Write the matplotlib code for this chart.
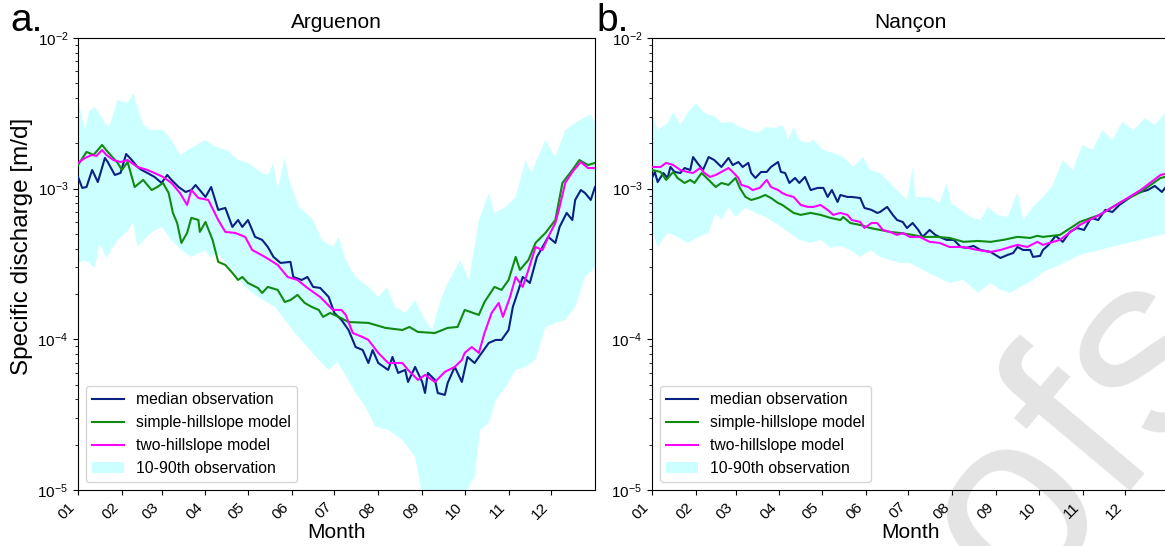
import numpy as np
import matplotlib
matplotlib.use("Agg")
import matplotlib.pyplot as plt

plt.rcParams['font.family'] = ['Liberation Sans', 'DejaVu Sans']
plt.rcParams['mathtext.fontset'] = 'custom'
plt.rcParams['mathtext.rm'] = 'Liberation Sans'
plt.rcParams['mathtext.it'] = 'Liberation Sans:italic'
plt.rcParams['mathtext.bf'] = 'Liberation Sans:bold'

# ---------------- data: (day of year, log10 specific discharge [m/d]) ----------------
month_start_days = [0, 31, 59, 90, 120, 151, 181, 212, 243, 273, 304, 334]
month_labels = ['01', '02', '03', '04', '05', '06', '07', '08', '09', '10', '11', '12']
titles = ['Arguenon', 'Nançon']
panel_letters = ['a.', 'b.']

arg_median = [(0,-2.922),(3,-2.995),(6,-2.989),(10,-2.876),(14,-2.956),(19,-2.796),(21,-2.823),(26,-2.909),
              (30,-2.896),(34,-2.770),(38,-2.810),(42,-2.856),(45,-2.876),(49,-2.896),(54,-2.922),(59,-2.962),
              (63,-2.909),(66,-2.942),(71,-2.989),(76,-3.022),(80,-3.009),(83,-2.976),(90,-3.055),(94,-2.989),
              (99,-3.141),(104,-3.128),(109,-3.254),(113,-3.208),(116,-3.254),(120,-3.208),(125,-3.320),
              (130,-3.340),(134,-3.387),(138,-3.453),(143,-3.493),(150,-3.486),(152,-3.586),(158,-3.606),
              (162,-3.586),(166,-3.652),(171,-3.659),(177,-3.719),(181,-3.825),(186,-3.871),(191,-3.938),
              (196,-4.051),(201,-4.071),(205,-4.157),(208,-4.071),(212,-4.157),(219,-4.203),(222,-4.117),
              (226,-4.223),(231,-4.203),(233,-4.283),(238,-4.183),(243,-4.283),(245,-4.356),(247,-4.223),
              (252,-4.269),(254,-4.356),(259,-4.369),(261,-4.289),(266,-4.183),(271,-4.283),(275,-4.117),
              (280,-4.157),(285,-4.090),(290,-4.024),(295,-4.004),(299,-4.004),(304,-3.938),(307,-3.785),
              (311,-3.672),(314,-3.586),(319,-3.626),(324,-3.453),(328,-3.387),(332,-3.320),(337,-3.360),
              (340,-3.254),(345,-3.161),(349,-3.208),(351,-3.075),(355,-3.009),(358,-3.029),(362,-3.075),
              (365,-2.989)]
arg_simple = [(0,-2.843),(6,-2.756),(11,-2.776),(17,-2.710),(21,-2.756),(28,-2.829),(31,-2.876),(35,-2.823),
              (38,-2.922),(40,-2.989),(46,-2.942),(52,-3.009),(56,-2.989),(60,-2.962),(64,-3.029),(67,-3.161),
              (70,-3.228),(73,-3.360),(77,-3.294),(80,-3.194),(85,-3.208),(86,-3.287),(90,-3.221),(95,-3.340),
              (99,-3.486),(104,-3.506),(109,-3.559),(113,-3.606),(116,-3.586),(120,-3.626),(127,-3.659),
              (130,-3.692),(134,-3.652),(141,-3.672),(146,-3.752),(150,-3.739),(155,-3.705),(160,-3.758),
              (165,-3.785),(170,-3.805),(173,-3.851),(178,-3.825),(184,-3.851),(191,-3.885),(205,-3.891),
              (217,-3.924),(229,-3.938),(234,-3.918),(240,-3.951),(252,-3.958),(261,-3.924),(268,-3.918),
              (273,-3.805),(283,-3.838),(287,-3.752),(294,-3.652),(299,-3.672),(304,-3.606),(309,-3.453),
              (312,-3.539),(318,-3.473),(323,-3.360),(330,-3.294),(337,-3.208),(342,-2.962),(349,-2.876),
              (354,-2.810),(360,-2.843),(365,-2.829)]
arg_two = [(0,-2.829),(5,-2.796),(10,-2.776),(13,-2.783),(17,-2.743),(20,-2.776),(25,-2.810),(30,-2.823),
           (35,-2.810),(42,-2.856),(49,-2.876),(54,-2.896),(60,-2.922),(66,-2.962),(72,-3.029),(77,-3.108),
           (80,-3.009),(85,-3.062),(92,-3.075),(99,-3.208),(104,-3.287),(111,-3.294),(118,-3.320),
           (123,-3.407),(132,-3.453),(141,-3.506),(148,-3.586),(155,-3.606),(162,-3.659),(171,-3.719),
           (180,-3.805),(186,-3.805),(189,-3.838),(194,-3.958),(201,-3.985),(205,-4.004),(212,-4.090),
           (219,-4.157),(229,-4.157),(233,-4.203),(240,-4.269),(245,-4.236),(252,-4.283),(259,-4.216),
           (266,-4.183),(271,-4.137),(273,-4.090),(278,-4.051),(283,-4.090),(287,-3.958),(292,-3.825),
           (297,-3.758),(300,-3.851),(305,-3.719),(309,-3.586),(314,-3.652),(318,-3.539),(323,-3.387),
           (328,-3.407),(332,-3.320),(337,-3.228),(340,-3.121),(344,-2.962),(349,-2.889),(355,-2.823),
           (360,-2.863),(365,-2.863)]
arg_p90 = [(0,-2.411),(5,-2.610),(8,-2.478),(12,-2.458),(17,-2.531),(19,-2.564),(22,-2.591),(28,-2.411),
           (35,-2.432),(39,-2.365),(46,-2.577),(51,-2.610),(60,-2.610),(66,-2.677),(70,-2.743),(72,-2.776),
           (81,-2.723),(86,-2.697),(90,-2.677),(97,-2.723),(105,-2.743),(113,-2.810),(120,-2.829),
           (130,-2.896),(134,-2.909),(138,-2.829),(141,-3.009),(146,-2.790),(149,-2.942),(156,-3.121),
           (166,-3.208),(172,-3.340),(180,-3.387),(184,-3.320),(189,-3.473),(196,-3.586),(205,-3.652),
           (212,-3.719),(218,-3.652),(224,-3.785),(231,-3.825),(238,-3.739),(245,-3.871),(250,-3.938),
           (256,-3.739),(261,-3.626),(270,-3.473),(276,-3.606),(283,-3.208),(290,-3.029),(294,-3.161),
           (302,-3.121),(309,-3.055),(316,-2.810),(320,-2.896),(330,-2.677),(337,-2.790),(344,-2.610),
           (351,-2.564),(358,-2.524),(362,-2.510),(365,-2.557)]
arg_p10 = [(0,-3.493),(5,-3.473),(12,-3.526),(15,-3.360),(20,-3.460),(28,-3.340),(33,-3.300),(39,-3.228),
           (42,-3.387),(51,-3.294),(59,-3.254),(66,-3.340),(73,-3.407),(80,-3.453),(90,-3.407),(93,-3.453),
           (98,-3.427),(109,-3.539),(118,-3.652),(127,-3.719),(139,-3.785),(146,-3.871),(153,-3.958),
           (162,-4.051),(170,-4.137),(177,-4.203),(183,-4.150),(188,-4.223),(196,-4.356),(203,-4.449),
           (210,-4.581),(219,-4.601),(229,-4.668),(238,-4.780),(242,-4.979),(248,-5.200),(258,-5.300),
           (266,-5.100),(273,-5.020),(280,-4.913),(284,-4.601),(290,-4.555),(295,-4.402),(302,-4.316),
           (309,-4.203),(316,-4.183),(323,-4.137),(330,-3.918),(337,-3.891),(344,-3.871),(351,-3.785),
           (358,-3.586),(365,-3.520)]

nan_median = [(0,-2.929),(2,-2.889),(4,-2.956),(8,-2.896),(11,-2.929),(13,-2.856),(16,-2.889),(20,-2.896),
              (23,-2.863),(27,-2.876),(29,-2.790),(32,-2.829),(36,-2.876),(40,-2.790),(44,-2.810),(49,-2.856),
              (54,-2.796),(57,-2.843),(61,-2.823),(64,-2.856),(68,-2.829),(70,-2.896),(73,-2.929),(77,-2.889),
              (81,-2.889),(84,-2.856),(89,-2.823),(91,-2.889),(94,-2.896),(97,-2.962),(101,-2.929),
              (104,-2.962),(108,-2.922),(112,-3.009),(117,-2.995),(121,-2.995),(124,-3.055),(127,-3.009),
              (131,-3.088),(133,-3.042),(138,-3.055),(141,-3.055),(147,-3.062),(150,-3.128),(155,-3.141),
              (159,-3.161),(161,-3.155),(166,-3.121),(170,-3.174),(173,-3.208),(177,-3.221),(180,-3.261),
              (184,-3.228),(188,-3.274),(191,-3.320),(196,-3.274),(200,-3.307),(203,-3.320),(208,-3.340),
              (213,-3.340),(218,-3.387),(222,-3.393),(227,-3.380),(232,-3.407),(239,-3.420),(246,-3.460),
              (251,-3.440),(255,-3.427),(258,-3.387),(262,-3.407),(267,-3.407),(269,-3.453),(274,-3.446),
              (276,-3.407),(280,-3.373),(285,-3.313),(290,-3.353),(295,-3.287),(300,-3.261),(305,-3.274),
              (310,-3.194),(315,-3.208),(320,-3.141),(325,-3.155),(330,-3.108),(335,-3.075),(340,-3.042),
              (345,-3.022),(350,-3.009),(355,-2.982),(360,-3.022),(365,-2.962)]
nan_simple = [(0,-2.876),(6,-2.889),(10,-2.942),(15,-2.889),(18,-2.929),(23,-2.962),(27,-2.942),(30,-2.962),
              (35,-2.896),(40,-2.942),(45,-2.989),(49,-2.962),(54,-2.975),(59,-2.929),(62,-2.995),(66,-3.055),
              (70,-3.075),(75,-3.062),(80,-3.042),(84,-3.062),(89,-3.095),(92,-3.108),(100,-3.161),
              (105,-3.174),(112,-3.161),(119,-3.174),(126,-3.194),(133,-3.208),(135,-3.188),(140,-3.228),
              (147,-3.241),(154,-3.261),(161,-3.274),(168,-3.287),(175,-3.294),(184,-3.307),(191,-3.320),
              (201,-3.320),(210,-3.327),(220,-3.353),(230,-3.347),(239,-3.353),(248,-3.340),(258,-3.320),
              (267,-3.327),(272,-3.313),(276,-3.320),(288,-3.307),(302,-3.221),(316,-3.174),(330,-3.095),
              (345,-3.022),(359,-2.929),(365,-2.916)]
nan_two = [(0,-2.856),(6,-2.856),(10,-2.829),(15,-2.843),(20,-2.876),(25,-2.889),(29,-2.896),(34,-2.863),
           (37,-2.896),(41,-2.922),(45,-2.909),(49,-2.889),(54,-2.863),(57,-2.889),(61,-2.929),(63,-2.975),
           (68,-2.989),(71,-3.009),(76,-2.995),(81,-2.942),(84,-2.989),(89,-3.009),(92,-3.029),(95,-3.042),
           (100,-3.055),(105,-3.108),(110,-3.121),(114,-3.121),(119,-3.108),(124,-3.141),(128,-3.174),
           (133,-3.161),(138,-3.174),(141,-3.208),(147,-3.221),(150,-3.261),(155,-3.228),(159,-3.228),
           (163,-3.274),(168,-3.287),(173,-3.307),(177,-3.294),(182,-3.320),(189,-3.320),(196,-3.353),
           (203,-3.360),(210,-3.387),(220,-3.387),(230,-3.407),(239,-3.420),(246,-3.407),(253,-3.387),
           (258,-3.373),(265,-3.387),(272,-3.353),(276,-3.373),(288,-3.340),(302,-3.241),(316,-3.174),
           (330,-3.095),(345,-3.009),(359,-2.909),(365,-2.896)]
nan_p90 = [(0,-2.498),(4,-2.610),(11,-2.564),(15,-2.491),(20,-2.577),(25,-2.498),(31,-2.431),(37,-2.498),
           (45,-2.524),(49,-2.564),(56,-2.557),(62,-2.591),(68,-2.610),(75,-2.630),(80,-2.591),(87,-2.597),
           (91,-2.577),(94,-2.610),(96,-2.677),(100,-2.591),(104,-2.677),(110,-2.697),(114,-2.677),
           (121,-2.743),(128,-2.763),(135,-2.790),(142,-2.856),(149,-2.790),(154,-2.876),(161,-2.896),
           (168,-2.962),(175,-3.029),(180,-3.075),(184,-2.856),(186,-3.055),(196,-3.055),(203,-3.095),
           (208,-2.962),(211,-3.095),(218,-3.141),(225,-3.188),(232,-3.208),(237,-3.121),(244,-3.174),
           (251,-3.188),(258,-3.022),(262,-3.208),(269,-3.121),(276,-3.055),(283,-2.975),(290,-2.810),
           (297,-2.876),(304,-2.710),(311,-2.743),(318,-2.610),(325,-2.677),(332,-2.557),(340,-2.610),
           (348,-2.531),(355,-2.577),(362,-2.498),(365,-2.531)]
nan_p10 = [(0,-3.274),(4,-3.387),(11,-3.294),(18,-3.320),(25,-3.360),(33,-3.320),(40,-3.294),(45,-3.161),
           (49,-3.208),(54,-3.121),(59,-3.188),(66,-3.128),(73,-3.161),(80,-3.188),(87,-3.228),(91,-3.254),
           (97,-3.294),(104,-3.340),(112,-3.360),(119,-3.340),(126,-3.393),(133,-3.380),(140,-3.407),
           (147,-3.453),(154,-3.407),(161,-3.453),(168,-3.473),(175,-3.493),(182,-3.493),(191,-3.539),
           (201,-3.586),(210,-3.626),(220,-3.606),(230,-3.692),(239,-3.626),(246,-3.672),(253,-3.692),
           (260,-3.652),(267,-3.619),(272,-3.586),(276,-3.553),(288,-3.506),(302,-3.440),(316,-3.407),
           (330,-3.373),(345,-3.340),(359,-3.307),(365,-3.294)]

legend_labels = ['median observation', 'simple-hillslope model', 'two-hillslope model', '10-90th observation']
colors = {'median': '#0a2182', 'simple': '#108a10', 'two': '#ff00ff', 'band': '#ccffff'}


def unpack(pairs):
    a = np.array(pairs, dtype=float)
    return a[:, 0], 10.0 ** a[:, 1]


W, H = 1165, 546
fig = plt.figure(figsize=(W / 100, H / 100), dpi=100)
axes = [fig.add_axes([78 / W, 56 / H, 517 / W, 452 / H]),
        fig.add_axes([652 / W, 56 / H, 517 / W, 452 / H])]

datasets = [(arg_median, arg_simple, arg_two, arg_p10, arg_p90),
            (nan_median, nan_simple, nan_two, nan_p10, nan_p90)]

# faint "Proofs" watermark behind the panels
fig.text(1238 / W, 1 - 338 / H, 'Proofs', fontsize=185, rotation=50, rotation_mode='anchor',
         ha='right', va='baseline', color='#e4e4e4', zorder=-1)

for i, (ax, (med, sim, two, p10, p90)) in enumerate(zip(axes, datasets)):
    ax.set_facecolor('none')
    x90, y90 = unpack(p90)
    x10, y10 = unpack(p10)
    band = ax.fill(np.concatenate([x90, x10[::-1]]), np.concatenate([y90, y10[::-1]]),
                   color=colors['band'], lw=0, zorder=1)[0]
    xm, ym = unpack(med)
    xs, ys = unpack(sim)
    xt, yt = unpack(two)
    l1, = ax.plot(xm, ym, color=colors['median'], lw=1.5, zorder=3)
    l2, = ax.plot(xs, ys, color=colors['simple'], lw=1.5, zorder=3)
    l3, = ax.plot(xt, yt, color=colors['two'], lw=1.5, zorder=3)

    ax.set_yscale('log')
    ax.set_ylim(1e-5, 1e-2)
    ax.set_xlim(0, 365)
    ax.set_xticks(month_start_days)
    ax.set_xticklabels(month_labels, rotation=45, ha='right', va='top')
    ax.tick_params(axis='both', which='major', labelsize=11)
    ax.set_title(titles[i], fontsize=15, pad=7)
    ax.set_xlabel('Month', fontsize=15, labelpad=1)
    ax.legend([l1, l2, l3, band], legend_labels, loc='lower left', fontsize=11.3)
    fig.text((10 if i == 0 else 596) / W, 1 - 31 / H, panel_letters[i], fontsize=28,
             ha='left', va='baseline')

axes[0].set_ylabel('Specific discharge [m/d]', fontsize=17.5)
axes[0].yaxis.set_label_coords(-0.088, 0.538)

fig.savefig('out.png', dpi=100)
